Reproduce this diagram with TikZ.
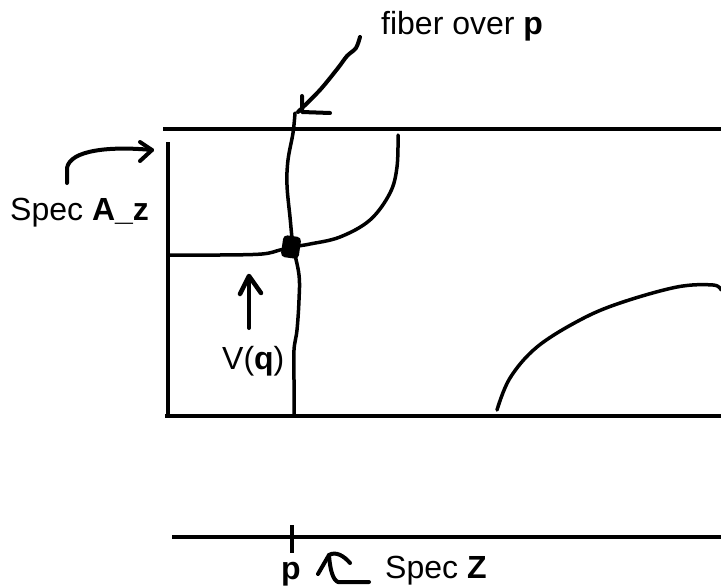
\documentclass[tikz,border=0pt]{standalone}
\usepackage{fontspec}
\setmainfont{Liberation Sans}
\usetikzlibrary{arrows.meta}

\begin{document}
\begin{tikzpicture}[x=1pt, y=-1pt,
  every node/.style={font=\fontsize{32}{36}\selectfont, inner sep=0pt, anchor=base west},
  frame/.style={line width=4pt},
  stroke/.style={line width=3.5pt, line cap=round, line join=round},
  blobmark/.style={fill, rounded corners=4pt, minimum width=18pt, minimum height=22pt, anchor=center, rotate=-8}]

\useasboundingbox (0,0) rectangle (721,586);

% labels
\node (fiberlabel) at (381,35) {fiber over \textbf{p}};
\node (speca) at (10,220) {Spec \textbf{A\_z}};
\node (vq) at (222,369) {V(\textbf{q})};
\node (pt) at (281,579) {\textbf{p}};
\node (specz) at (385,578) {Spec \textbf{Z}};

% Spec A_z
\draw[frame] (163,129) -- (721,129);
\draw[frame] (165,416) -- (721,416);
\draw[frame] (168,142) -- (168,418);

% Spec Z
\draw[frame] (172,537) -- (721,537);
\coordinate (tickup) at (292,525);
\coordinate (tickdown) at (292,553);
\draw[line width=4pt] (tickup) -- (tickdown);

% the fiber and V(q)
\node[blobmark] (blob) at (291,247) {};
\draw[stroke] plot[smooth, tension=0.6] coordinates {(295,113) (293,133) (288,160) (287,185) (290,217) (293,245) (299,275) (299,300) (297,330) (294,350) (294,380) (294,416)};
\draw[stroke] plot[smooth, tension=0.6] coordinates {(168,255) (220,255) (262,254) (280,250) (292,247) (310,244) (340,237) (370,220) (390,193) (397,167) (398,135)};
\draw[stroke] plot[smooth, tension=0.6] coordinates {(497,410) (510,378) (537,347) (580,320) (620,303) (677,287) (713,285) (721,290)};

% hand arrows
\coordinate (fibfrom) at (360,37);
\coordinate (fibtip) at (298,112);
\draw[stroke, line width=4pt] plot[smooth, tension=0.5] coordinates {(fibfrom) (356,48) (347,56) (338,68) (320,90) (fibtip)};
\draw[stroke, line width=4pt] (302,96) -- (302,112) -- (330,113);

\coordinate (azfrom) at (67,183);
\coordinate (aztip) at (152,150);
\draw[stroke, line width=4pt] (azfrom) -- (67,168) .. controls (70,150) and (110,146) .. (aztip);
\draw[stroke, line width=4pt] (140,142) -- (aztip) -- (140,161);

\coordinate (vqfrom) at (249,328);
\coordinate (vqtip) at (249,276);
\draw[stroke, line width=4pt] (vqfrom) -- (vqtip);
\draw[stroke, line width=4.5pt] (240,294) -- (vqtip) -- (261,293);

\coordinate (szfrom) at (369,582);
\coordinate (sztip) at (329,555);
\draw[stroke, line width=4pt] (szfrom) -- (338,582) .. controls (333,580) and (330,570) .. (sztip);
\draw[stroke, line width=4pt] (318,574) -- (sztip) .. controls (336,551) and (344,556) .. (350,563);

\end{tikzpicture}
\end{document}
